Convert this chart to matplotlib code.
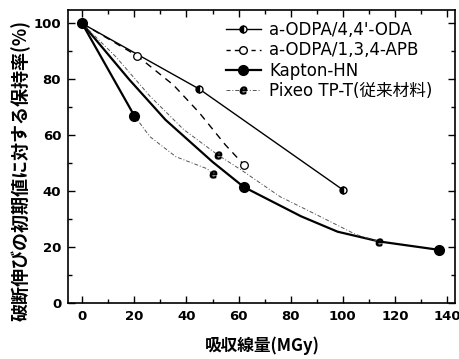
import matplotlib
matplotlib.use("Agg")
import matplotlib.pyplot as plt
from matplotlib.lines import Line2D
from matplotlib.ticker import MultipleLocator

# ---- data ----
series_names = ["a-ODPA/4,4'-ODA", "a-ODPA/1,3,4-APB", "Kapton-HN", "Pixeo TP-T(従来材料)"]

oda_x = [0, 45, 100]
oda_y = [100, 76.5, 40.5]
oda_curve_x = [0, 45, 100]
oda_curve_y = [100, 76.5, 40.5]

apb_x = [0, 21, 62]
apb_y = [100, 88.5, 49.5]
apb_curve_x = [0, 21, 35, 45, 55, 62]
apb_curve_y = [100, 88.5, 78, 68, 56.5, 49.5]

kapton_x = [0, 20, 62, 137]
kapton_y = [100, 67, 41.5, 19]
kapton_curve_x = [0, 18, 32, 50, 62, 84, 98, 114, 137]
kapton_curve_y = [100, 80, 65.5, 50.5, 41.5, 31, 25.5, 22, 19]
kapton_steep_x = [0, 20]
kapton_steep_y = [100, 67]

pixeo_x = [50, 52, 114]
pixeo_y = [46, 53, 22]
pixeo_low_x = [20, 26, 36, 48, 50]
pixeo_low_y = [67, 59.5, 52.3, 48, 46]
pixeo_up_x = [0, 13, 26, 39, 52, 61, 76, 89, 105, 114]
pixeo_up_y = [100, 88, 74, 62, 53, 47.6, 38, 32, 24.5, 22]

x_ticks = [0, 20, 40, 60, 80, 100, 120, 140]
y_ticks = [0, 20, 40, 60, 80, 100]
x_label = "吸収線量(MGy)"
y_label = "破断伸びの初期値に対する保持率(%)"

NUM = ["DejaVu Sans"]
LAT = ["DejaVu Sans", "Noto Sans CJK JP"]
CJK = ["Noto Sans CJK JP", "DejaVu Sans"]

fig = plt.figure(figsize=(4.6, 3.59), dpi=100)
ax = fig.add_axes([0.148, 0.156, 0.841, 0.816])

# curves
ax.plot(oda_curve_x, oda_curve_y, color="black", lw=1.0, zorder=2)
ax.plot(apb_curve_x, apb_curve_y, color="black", lw=1.0, ls=(0, (5, 4)), zorder=2)
ax.plot(kapton_curve_x, kapton_curve_y, color="black", lw=1.6, zorder=2)
ax.plot(kapton_steep_x, kapton_steep_y, color="black", lw=1.6, zorder=2)
ax.plot(pixeo_low_x, pixeo_low_y, color="#555555", lw=0.7, ls=(0, (4, 2, 1, 2)), zorder=2)
ax.plot(pixeo_up_x, pixeo_up_y, color="#555555", lw=0.7, ls=(0, (4, 2, 1, 2)), zorder=2)

# markers
ax.plot(oda_x, oda_y, ls="none", marker="o", ms=5, mfc="black", mec="black",
        fillstyle="left", markerfacecoloralt="white", mew=1.0, zorder=4)
ax.plot(apb_x[1:], apb_y[1:], ls="none", marker="o", ms=5.5, mfc="white", mec="black", mew=0.9, zorder=4)
ax.plot(kapton_x, kapton_y, ls="none", marker="o", ms=7, mfc="black", mec="black", zorder=5)
ax.plot(pixeo_x, pixeo_y, ls="none", marker="$e$", ms=5, color="black", zorder=4)

ax.set_xlim(-5.4, 143)
ax.set_ylim(0, 104.8)
ax.set_xticks(x_ticks)
ax.set_yticks(y_ticks)
ax.xaxis.set_minor_locator(MultipleLocator(10))
ax.yaxis.set_minor_locator(MultipleLocator(10))
ax.tick_params(which="both", direction="in", top=True, right=True, width=1.0)
ax.tick_params(which="major", length=5, labelsize=9.5, pad=5)
ax.tick_params(which="minor", length=3)
for lab in ax.get_xticklabels() + ax.get_yticklabels():
    lab.set_family(NUM)
    lab.set_fontweight("bold")
for s in ax.spines.values():
    s.set_linewidth(1.2)

fig.text(0.57, 0.038, x_label, ha="center", va="center", fontsize=12,
         family=CJK, fontweight="bold")
fig.text(0.045, 0.524, y_label, ha="center", va="center", rotation=90,
         fontsize=13, family=CJK, fontweight="bold")

handles = [
    Line2D([], [], color="black", lw=1.0, marker="o", ms=5, mfc="black", mec="black",
           fillstyle="left", markerfacecoloralt="white"),
    Line2D([], [], color="black", lw=1.0, ls=(0, (3, 3)), marker="o", ms=5.5, mfc="white", mec="black"),
    Line2D([], [], color="black", lw=1.6, marker="o", ms=7, mfc="black", mec="black"),
    Line2D([], [], color="#555555", lw=0.7, ls=(0, (4, 2, 1, 2)), marker="$e$", ms=5, mfc="black", mec="black"),
]
leg = ax.legend(handles, series_names, loc="upper left", bbox_to_anchor=(0.39, 0.985),
                frameon=False, handlelength=2.1, handletextpad=0.5, labelspacing=0.14,
                prop={"family": LAT, "size": 12}, borderaxespad=0)

fig.savefig("out.png", dpi=100)
